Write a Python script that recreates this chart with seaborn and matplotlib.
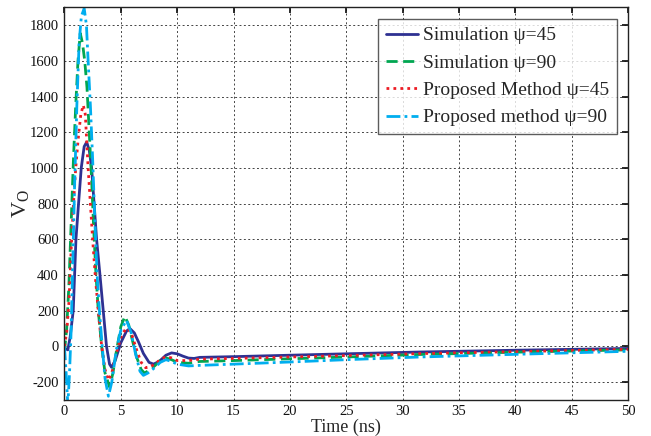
import numpy as np
import pandas as pd
import matplotlib
matplotlib.use("Agg")
import matplotlib.pyplot as plt
import seaborn as sns

# ---- data ----
t_sim45 = [0, 0.3, 0.5, 0.78, 1.02, 1.25, 1.49, 1.75, 1.97, 2.2, 2.41, 2.85, 3.15, 3.44, 3.73, 4.0, 4.18,
           4.5, 5.0, 5.5, 5.8, 6.2, 6.6, 7.0, 7.5, 7.9, 8.4, 9.0, 9.5, 10.0, 10.5, 11.0, 11.5, 12, 15, 20,
           25, 31.5, 40, 50]
v_sim45 = [-10, -20, 50, 200, 600, 800, 1000, 1120, 1145, 1100, 1000, 600, 400, 200, 0, -100, -118,
           -80, 20, 85, 100, 75, 20, -40, -90, -100, -85, -50, -37, -42, -55, -66, -68, -62, -58, -50,
           -42, -32, -22, -12]

t_sim90 = [0, 0.2, 0.4, 0.6, 0.8, 1.0, 1.2, 1.4, 1.6, 1.8, 2.0, 2.2, 2.4, 2.6, 2.8, 3.0, 3.3, 3.6, 4.0,
           4.3, 4.6, 5.0, 5.36, 5.7, 6.0, 6.4, 6.8, 7.1, 7.5, 8.0, 8.5, 9.0, 9.5, 10, 11, 12, 15, 20, 25,
           31.5, 40, 50]
v_sim90 = [-30, 100, 350, 700, 1050, 1350, 1600, 1755, 1700, 1600, 1450, 1200, 950, 650, 400, 200, 0,
           -150, -228, -150, -30, 110, 168, 120, 40, -60, -130, -150, -135, -110, -80, -65, -75, -90,
           -95, -85, -80, -70, -60, -46, -33, -20]

t_prop45 = [0, 0.2, 0.4, 0.6, 0.8, 1.0, 1.2, 1.45, 1.67, 1.85, 2.1, 2.3, 2.5, 2.75, 3.0, 3.3, 3.6, 3.9,
            4.2, 4.6, 5.0, 5.4, 5.65, 6.0, 6.4, 6.8, 7.2, 7.6, 8.0, 8.5, 9.0, 9.5, 10, 11, 12, 15, 20,
            25, 31.5, 40, 50]
v_prop45 = [0, 80, 250, 550, 800, 1000, 1150, 1300, 1352, 1300, 1000, 800, 600, 380, 200, 0, -130, -190,
            -150, -40, 50, 95, 100, 60, -20, -90, -120, -116, -100, -75, -58, -65, -80, -80, -72, -68,
            -60, -52, -41, -30, -17]

t_prop90 = [0, 0.15, 0.3, 0.45, 0.6, 0.75, 0.9, 1.1, 1.3, 1.5, 1.75, 1.95, 2.1, 2.3, 2.5, 2.7, 2.9, 3.1,
            3.35, 3.6, 3.9, 4.2, 4.6, 5.0, 5.5, 5.9, 6.3, 6.7, 7.0, 7.4, 8.0, 8.5, 9.0, 9.5, 10, 11, 12,
            15, 20, 25, 31.5, 40, 50]
v_prop90 = [0, -150, -330, -150, 100, 500, 900, 1350, 1700, 1850, 1895, 1800, 1600, 1350, 1050, 700, 400,
            200, 0, -180, -280, -200, -20, 90, 146, 80, -40, -140, -163, -150, -120, -90, -75, -85, -100,
            -110, -107, -100, -88, -75, -60, -45, -28]

labels = ["Simulation \u03c8=45", "Simulation \u03c8=90",
          "Proposed Method \u03c8=45", "Proposed method \u03c8=90"]
colors = ["#2E3192", "#00A651", "#ED1C24", "#00AEEF"]
styles = ["-", (0, (4, 2)), (0, (1, 1.5)), (0, (5, 1.5, 1, 1.5))]
series = [(t_sim45, v_sim45), (t_sim90, v_sim90), (t_prop45, v_prop45), (t_prop90, v_prop90)]

sns.set_theme(style="white")
plt.rcParams["font.family"] = ["Liberation Serif", "DejaVu Serif"]
plt.rcParams["mathtext.fontset"] = "custom"
plt.rcParams["mathtext.rm"] = "Liberation Serif"
plt.rcParams["mathtext.it"] = "Liberation Serif:italic"
plt.rcParams["axes.unicode_minus"] = False

fig = plt.figure(figsize=(6.51, 4.36), dpi=100)
ax = fig.add_axes([0.099, 0.083, 0.866, 0.900])

for (t, v), lab, c, ls in zip(series, labels, colors, styles):
    df = pd.DataFrame({"t": t, "v": v})
    sns.lineplot(data=df, x="t", y="v", ax=ax, color=c, linestyle=ls, linewidth=2.0,
                 label=lab, sort=False, estimator=None)

ax.set_xlim(0, 50)
ax.set_ylim(-300, 1900)
ax.set_xticks(np.arange(0, 51, 5))
ax.set_yticks(np.arange(-200, 1801, 200))
ax.grid(True, color="#444444", linestyle=(0, (2, 2.5)), linewidth=0.7)
for s in ax.spines.values():
    s.set_color("#222222")
    s.set_linewidth(1.0)
ax.tick_params(direction="in", length=4, labelsize=10.5, colors="#111111",
               top=True, right=True, pad=4)
ax.set_xlabel("Time (ns)", fontsize=13, labelpad=0)
ax.set_ylabel("V$_\\mathrm{O}$", fontsize=16)
ax.yaxis.set_label_coords(-0.06, 0.5)

leg = ax.legend(loc="upper right", fontsize=14, frameon=True, fancybox=False,
                edgecolor="#333333", handlelength=1.65, handletextpad=0.25,
                borderpad=0.4, labelspacing=0.5, borderaxespad=0.6)
leg.get_frame().set_linewidth(1.0)

fig.savefig("out.png", dpi=100)
